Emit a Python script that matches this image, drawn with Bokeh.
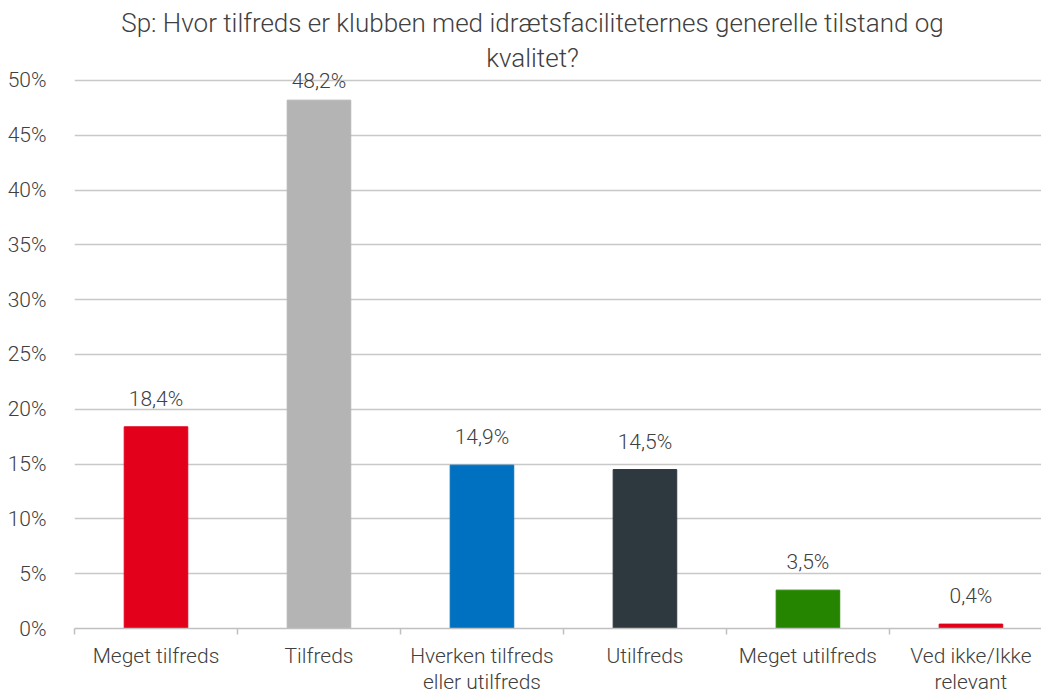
from bokeh.plotting import figure
from bokeh.models import Range1d, FixedTicker, ColumnDataSource, LabelSet, Label
from bokeh.core.properties import value
from bokeh.embed import file_html
from bokeh.resources import INLINE

categories = ["Meget tilfreds", "Tilfreds", "Hverken tilfreds\neller utilfreds",
              "Utilfreds", "Meget utilfreds", "Ved ikke/Ikke\nrelevant"]
values = [0.184, 0.482, 0.149, 0.145, 0.035, 0.004]
colors = ["#E2001A", "#B4B4B4", "#0070C0", "#2E383F", "#268500", "#E2001A"]
y_ticks = [0, 0.05, 0.10, 0.15, 0.20, 0.25, 0.30, 0.35, 0.40, 0.45, 0.50]
title_lines = ["Sp: Hvor tilfreds er klubben med idrætsfaciliteternes generelle tilstand og", "kvalitet?"]

FONT = "Roboto Light"
TXT = "#404040"

xs = [i + 0.5 for i in range(len(categories))]
labels = [f"{v*100:.1f}".replace(".", ",") + "%" for v in values]
offsets = [7 if v > 0.45 else 16 for v in values]

src = ColumnDataSource(dict(x=xs, top=values, color=colors, label=labels, off=offsets))

# frame spans whole height above the axis; 1 percentage point = 11 px
Y_TOP = 0.5729
p = figure(width=1041, height=696, output_backend="svg", toolbar_location=None,
           x_range=Range1d(0, 5.933), y_range=Range1d(0, Y_TOP),
           min_border_left=74, min_border_right=0, min_border_top=0,
           min_border_bottom=67)
p.outline_line_color = None
p.background_fill_color = "white"
p.border_fill_color = "white"

p.vbar(x="x", top="top", width=0.39, bottom=0, color="color", source=src)
p.add_layout(LabelSet(x="x", y="top", text="label", source=src, text_align="center",
                      text_baseline="bottom", y_offset="off", text_font=value(FONT),
                      text_font_size="21px", text_color=TXT))

# two-line title drawn as labels
for txt, ty in zip(title_lines, [0.5528, 0.5200]):
    p.add_layout(Label(x=2.81, y=ty, text=txt, text_align="center",
                       text_baseline="middle", text_font=FONT,
                       text_font_size="26px", text_color=TXT))

# y axis
p.yaxis.ticker = FixedTicker(ticks=y_ticks)
p.yaxis.major_label_overrides = {t: f"{round(t*100)}%" for t in y_ticks}
p.yaxis.axis_line_color = None
p.yaxis.major_tick_line_color = None
p.yaxis.minor_tick_line_color = None
p.yaxis.major_label_standoff = 22
p.yaxis.major_label_text_font = FONT
p.yaxis.major_label_text_font_size = "21px"
p.yaxis.major_label_text_color = TXT

# x axis
p.xaxis.ticker = FixedTicker(ticks=xs, minor_ticks=list(range(len(categories) + 1)))
p.xaxis.major_label_overrides = {x: c for x, c in zip(xs, categories)}
p.xaxis.axis_line_color = "#C0C0C0"
p.xaxis.axis_line_width = 1.5
p.xaxis.major_tick_line_color = None
p.xaxis.minor_tick_line_color = "#C0C0C0"
p.xaxis.minor_tick_line_width = 1.5
p.xaxis.minor_tick_in = 0
p.xaxis.minor_tick_out = 6
p.xaxis.major_label_standoff = 9
p.xaxis.major_label_text_line_height = 1.1
p.xaxis.major_label_text_font = FONT
p.xaxis.major_label_text_font_size = "21px"
p.xaxis.major_label_text_color = TXT

p.xgrid.grid_line_color = None
p.ygrid.grid_line_color = "#C8C8C8"
p.ygrid.grid_line_width = 1.5
p.ygrid.ticker = FixedTicker(ticks=y_ticks[1:])

open("out.html", "w").write(file_html(p, INLINE))
